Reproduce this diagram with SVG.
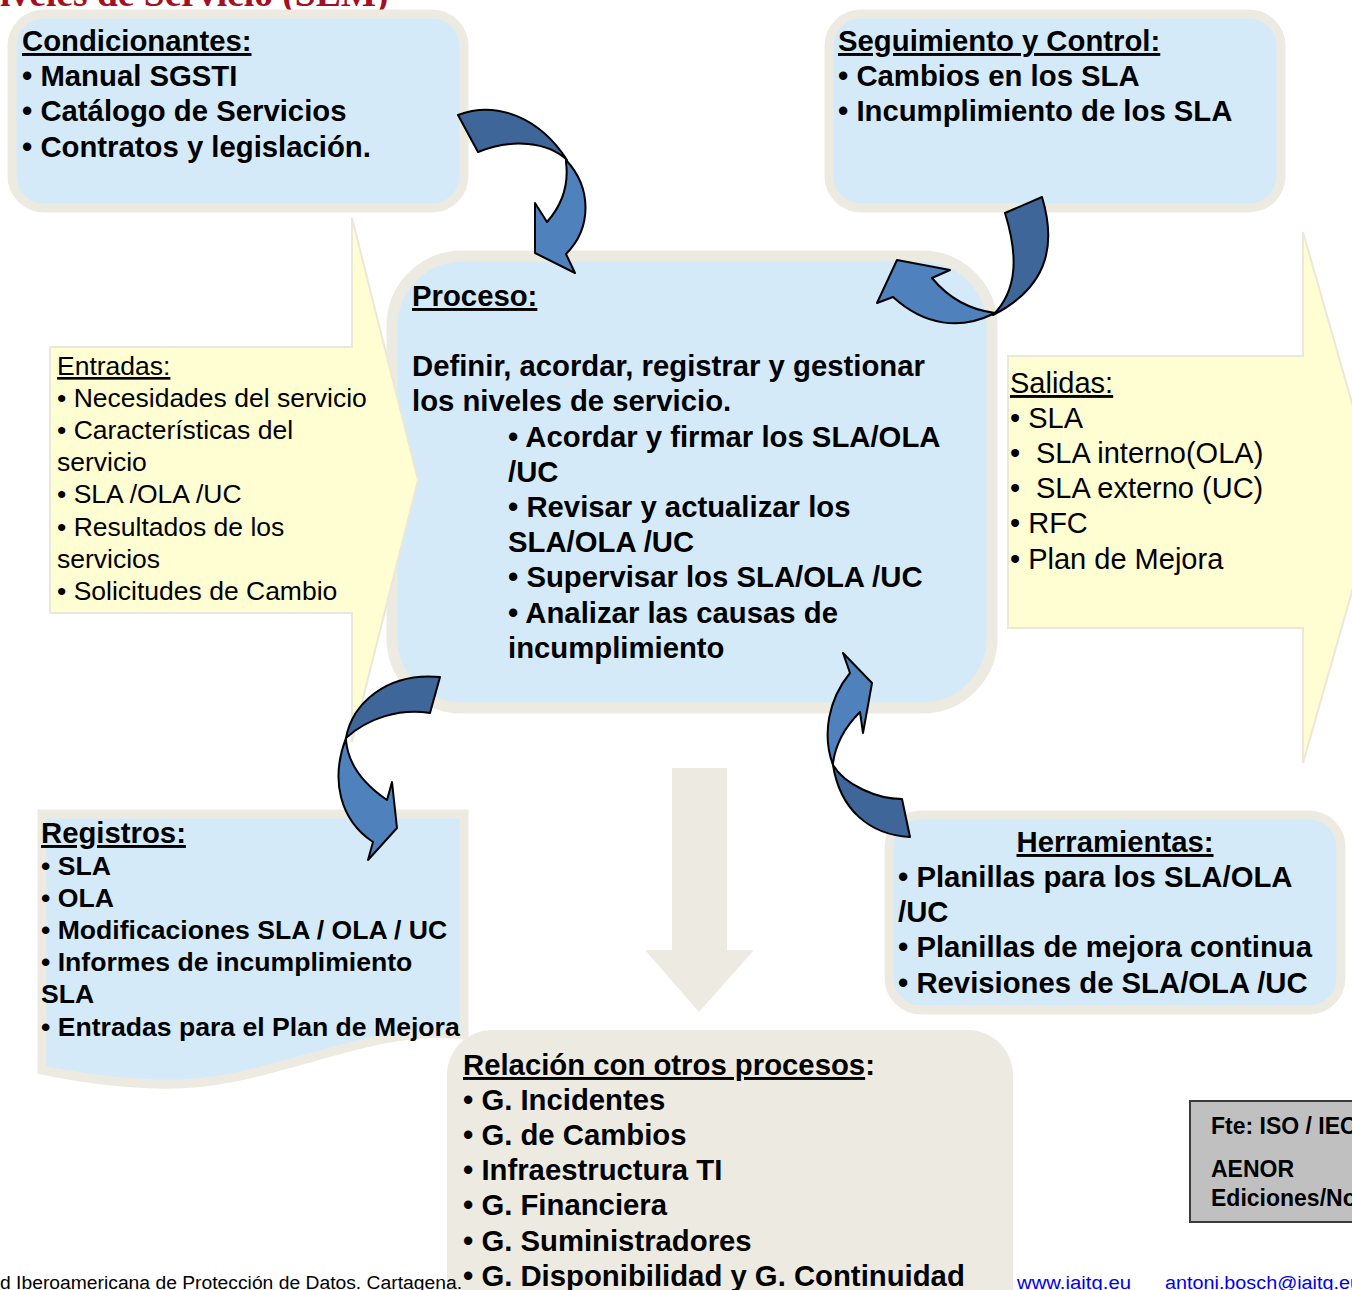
<svg xmlns="http://www.w3.org/2000/svg" width="1352" height="1290" viewBox="0 0 1352 1290">
<style>
text{font-family:"Liberation Sans",Arial,sans-serif;fill:#000}
.b{font-weight:bold;font-size:29.3px}
.bs{font-weight:bold;font-size:26.6px}
.r{font-size:26.5px}
.r29{font-size:29px}
.u{text-decoration:underline}
.box{fill:#d5eaf8;stroke:#edebe1;stroke-width:9}
.yel{fill:#fffdd2;stroke:#ebe8da;stroke-width:2}
.dk{fill:#3e6698;stroke:#000;stroke-width:2;stroke-linejoin:round}
.lt{fill:#4f81bd;stroke:#000;stroke-width:2;stroke-linejoin:round}
</style>
<rect width="1352" height="1290" fill="#fff"/>
<text x="-27" y="6" style="font-family:'Liberation Serif','Times New Roman',serif;font-weight:bold;font-size:37.5px;fill:#a50f23">Niveles de Servicio (SLM)</text>

<g id="condicionantes">
<rect class="box" x="12" y="14" width="452" height="194" rx="32"/>
<text class="b u" x="22" y="51">Condicionantes:</text>
<text class="b" x="22" y="86">• Manual SGSTI</text>
<text class="b" x="22" y="121">• Catálogo de Servicios</text>
<text class="b" x="22" y="157">• Contratos y legislación.</text>
</g>

<g id="seguimiento">
<rect class="box" x="829" y="14" width="452" height="194" rx="32"/>
<text class="b u" x="838" y="51">Seguimiento y Control:</text>
<text class="b" x="838" y="86">• Cambios en los SLA</text>
<text class="b" x="838" y="121">• Incumplimiento de los SLA</text>
</g>

<g id="proceso">
<rect class="box" x="392" y="256" width="600" height="452" rx="70" style="stroke-width:11"/>
<text class="b u" x="412" y="306">Proceso:</text>
<text class="b" x="412" y="376">Definir, acordar, registrar y gestionar</text>
<text class="b" x="412" y="411">los niveles de servicio.</text>
<text class="b" x="508" y="447">• Acordar y firmar los SLA/OLA</text>
<text class="b" x="508" y="482">/UC</text>
<text class="b" x="508" y="517">• Revisar y actualizar los</text>
<text class="b" x="508" y="552">SLA/OLA /UC</text>
<text class="b" x="508" y="587">• Supervisar los SLA/OLA /UC</text>
<text class="b" x="508" y="623">• Analizar las causas de</text>
<text class="b" x="508" y="658">incumplimiento</text>
</g>

<g id="entradas">
<polygon class="yel" points="50,347 352,347 352,218 418,480 352,742 352,613 50,613"/>
<text class="r u" x="57" y="375">Entradas:</text>
<text class="r" x="57" y="407">• Necesidades del servicio</text>
<text class="r" x="57" y="439">• Características del</text>
<text class="r" x="57" y="471">servicio</text>
<text class="r" x="57" y="503">• SLA /OLA /UC</text>
<text class="r" x="57" y="536">• Resultados de los</text>
<text class="r" x="57" y="568">servicios</text>
<text class="r" x="57" y="600">• Solicitudes de Cambio</text>
</g>

<g id="salidas">
<polygon class="yel" points="1008,356 1303,356 1303,232 1379,497 1303,763 1303,628 1008,628"/>
<text class="r29 u" x="1010" y="393">Salidas:</text>
<text class="r29" x="1010" y="428">• SLA</text>
<text class="r29" x="1010" y="463">•<tspan x="1036">SLA interno(OLA)</tspan></text>
<text class="r29" x="1010" y="498">•<tspan x="1036">SLA externo (UC)</tspan></text>
<text class="r29" x="1010" y="533">• RFC</text>
<text class="r29" x="1010" y="569">• Plan de Mejora</text>
</g>

<g id="registros">
<path class="box" d="M42,814 H464 V1035 C365,1022 265,1090 155,1084 C105,1082 72,1076 42,1070 Z"/>
<text class="b u" x="41" y="843">Registros:</text>
<text class="bs" x="41" y="875">• SLA</text>
<text class="bs" x="41" y="907">• OLA</text>
<text class="bs" x="41" y="939">• Modificaciones SLA / OLA / UC</text>
<text class="bs" x="41" y="971">• Informes de incumplimiento</text>
<text class="bs" x="41" y="1003">SLA</text>
<text class="bs" x="41" y="1036">• Entradas para el Plan de Mejora</text>
</g>

<g id="herramientas">
<rect class="box" x="889" y="815" width="452" height="195" rx="32"/>
<text class="b u" x="1115" y="852" text-anchor="middle">Herramientas:</text>
<text class="b" x="898" y="887">• Planillas para los SLA/OLA</text>
<text class="b" x="898" y="922">/UC</text>
<text class="b" x="898" y="957">• Planillas de mejora continua</text>
<text class="b" x="898" y="993">• Revisiones de SLA/OLA /UC</text>
</g>

<g id="flecha-abajo">
<polygon points="672,768 727,768 727,950 754,950 699,1012 645,950 672,950" fill="#edebe1"/>
</g>

<g id="relacion">
<rect x="447" y="1030" width="566" height="320" rx="45" fill="#edebe1"/>
<text class="b" x="463" y="1075"><tspan class="u">Relación con otros procesos</tspan>:</text>
<text class="b" x="463" y="1110">• G. Incidentes</text>
<text class="b" x="463" y="1145">• G. de Cambios</text>
<text class="b" x="463" y="1180">• Infraestructura TI</text>
<text class="b" x="463" y="1215">• G. Financiera</text>
<text class="b" x="463" y="1251">• G. Suministradores</text>
<text class="b" x="463" y="1286">• G. Disponibilidad y G. Continuidad</text>
</g>

<g id="fuente">
<rect x="1190" y="1101" width="180" height="121" fill="#c0c0c0" stroke="#3a3a3a" stroke-width="2"/>
<text x="1211" y="1134" style="font-weight:bold;font-size:23px">Fte: ISO / IEC</text>
<text x="1211" y="1177" style="font-weight:bold;font-size:23px">AENOR</text>
<text x="1211" y="1206" style="font-weight:bold;font-size:23px">Ediciones/No</text>
</g>

<g id="pie">
<text x="0" y="1289" style="font-size:18px" textLength="462" lengthAdjust="spacingAndGlyphs">d Iberoamericana de Protección de Datos. Cartagena.</text>
<text x="1017" y="1289" style="font-size:18px;fill:#0000ee" textLength="114" lengthAdjust="spacingAndGlyphs">www.iaitg.eu</text>
<text x="1165" y="1289" style="font-size:18px;fill:#0000ee" textLength="196" lengthAdjust="spacingAndGlyphs">antoni.bosch@iaitg.eu</text>
</g>

<g id="conectores">
<path class="dk" d="M458,115 C497,100 540,118 567,160 C548,142 512,138 478,152 Z"/>
<path class="lt" d="M566,160 C592,188 592,228 566,254 L575,273 L535,253 L535,203 L547,222 C562,205 569,185 566,162 Z"/>
<path class="dk" d="M1005,213 L1042,197 C1055,240 1052,285 993,315 C1018,290 1018,255 1005,213 Z"/>
<path class="lt" d="M993,314 C960,330 925,326 893,297 L877,303 L897,260 L950,270 L932,278 C950,300 972,310 995,313 Z"/>
<path class="dk" d="M440,677 L430,713 C400,708 368,718 346,738 C352,705 385,672 440,677 Z"/>
<path class="lt" d="M346,738 C330,780 340,820 373,842 L368,860 L397,828 L392,782 L387,800 C365,785 348,765 346,740 Z"/>
<path class="dk" d="M910,837 L902,799 C877,799 845,785 833,765 C840,810 870,835 910,837 Z"/>
<path class="lt" d="M833,765 C822,735 828,700 850,673 L843,653 L872,683 L863,733 L860,712 C842,730 835,748 833,763 Z"/>
</g>
</svg>
